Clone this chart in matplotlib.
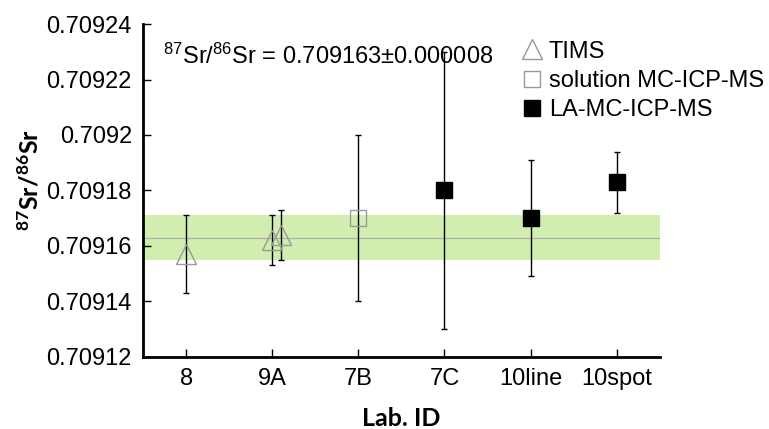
import matplotlib
matplotlib.use('Agg')
import matplotlib.pyplot as plt

plt.rcParams['font.family'] = ['Liberation Sans', 'DejaVu Sans']
plt.rcParams['mathtext.default'] = 'regular'

labels = ['8', '9A', '7B', '7C', '10line', '10spot']

tims_x = [1, 2, 2.1]
tims_y = [0.709157, 0.709162, 0.709164]
tims_err = [0.000014, 0.000009, 0.000009]

sol_x = [3]
sol_y = [0.70917]
sol_err = [0.00003]

la_x = [4, 5, 6]
la_y = [0.70918, 0.70917, 0.709183]
la_err = [0.00005, 0.000021, 0.000011]

mean_val = 0.709163
mean_err = 0.000008

fig = plt.figure(figsize=(7.69, 4.29), dpi=100)
ax = fig.add_axes([0.186, 0.168, 0.672, 0.776])

ax.axhspan(mean_val - mean_err, mean_val + mean_err, color='#d2edb0', zorder=0, lw=0)
ax.axhline(mean_val, color='#aaaaaa', lw=0.8, zorder=1)

ax.errorbar(tims_x, tims_y, yerr=tims_err, fmt='none', ecolor='black', elinewidth=1,
            capsize=2.5, capthick=1, zorder=2)
ax.errorbar(sol_x, sol_y, yerr=sol_err, fmt='none', ecolor='black', elinewidth=1,
            capsize=2.5, capthick=1, zorder=2)
ax.errorbar(la_x, la_y, yerr=la_err, fmt='none', ecolor='black', elinewidth=1,
            capsize=2.5, capthick=1, zorder=2)

ax.plot(tims_x, tims_y, '^', ms=15, mfc='none', mec='#999999', mew=1, ls='none',
        label='TIMS', zorder=3)
ax.plot(sol_x, sol_y, 's', ms=12, mfc='none', mec='#999999', mew=1, ls='none',
        label='solution MC-ICP-MS', zorder=3)
ax.plot(la_x, la_y, 's', ms=12, mfc='black', mec='black', ls='none',
        label='LA-MC-ICP-MS', zorder=3)

ax.set_xlim(0.5, 6.5)
ax.set_ylim(0.70912, 0.70924)
ax.set_xticks(range(1, len(labels) + 1))
ax.set_xticklabels(labels)
ax.set_yticks([0.70912, 0.70914, 0.70916, 0.70918, 0.7092, 0.70922, 0.70924])
ax.set_yticklabels(['0.70912', '0.70914', '0.70916', '0.70918', '0.7092', '0.70922', '0.70924'])
ax.tick_params(axis='both', direction='in', length=6, width=1, labelsize=17, pad=8)

for side in ['top', 'right']:
    ax.spines[side].set_visible(False)
for side in ['left', 'bottom']:
    ax.spines[side].set_linewidth(2)

ax.text(0.039, 0.88, r'$^{87}$Sr/$^{86}$Sr = 0.709163±0.000008', transform=ax.transAxes,
        fontsize=17, va='baseline', ha='left')

ax.set_xlabel('Lab. ID', fontsize=18, fontweight='bold', family='Lato', labelpad=12)
ax.set_ylabel(r'$^{87}$Sr/$^{86}$Sr', fontsize=18, fontweight='bold', family='Lato')
ax.yaxis.set_label_coords(-0.195, 0.53)

ax.legend(loc='upper left', bbox_to_anchor=(0.68, 0.905), bbox_transform=fig.transFigure,
          frameon=False, fontsize=17, borderpad=0, borderaxespad=0, handlelength=0.8,
          handletextpad=0.3, labelspacing=0.3, markerscale=0.95)

fig.savefig('out.png', dpi=100)
